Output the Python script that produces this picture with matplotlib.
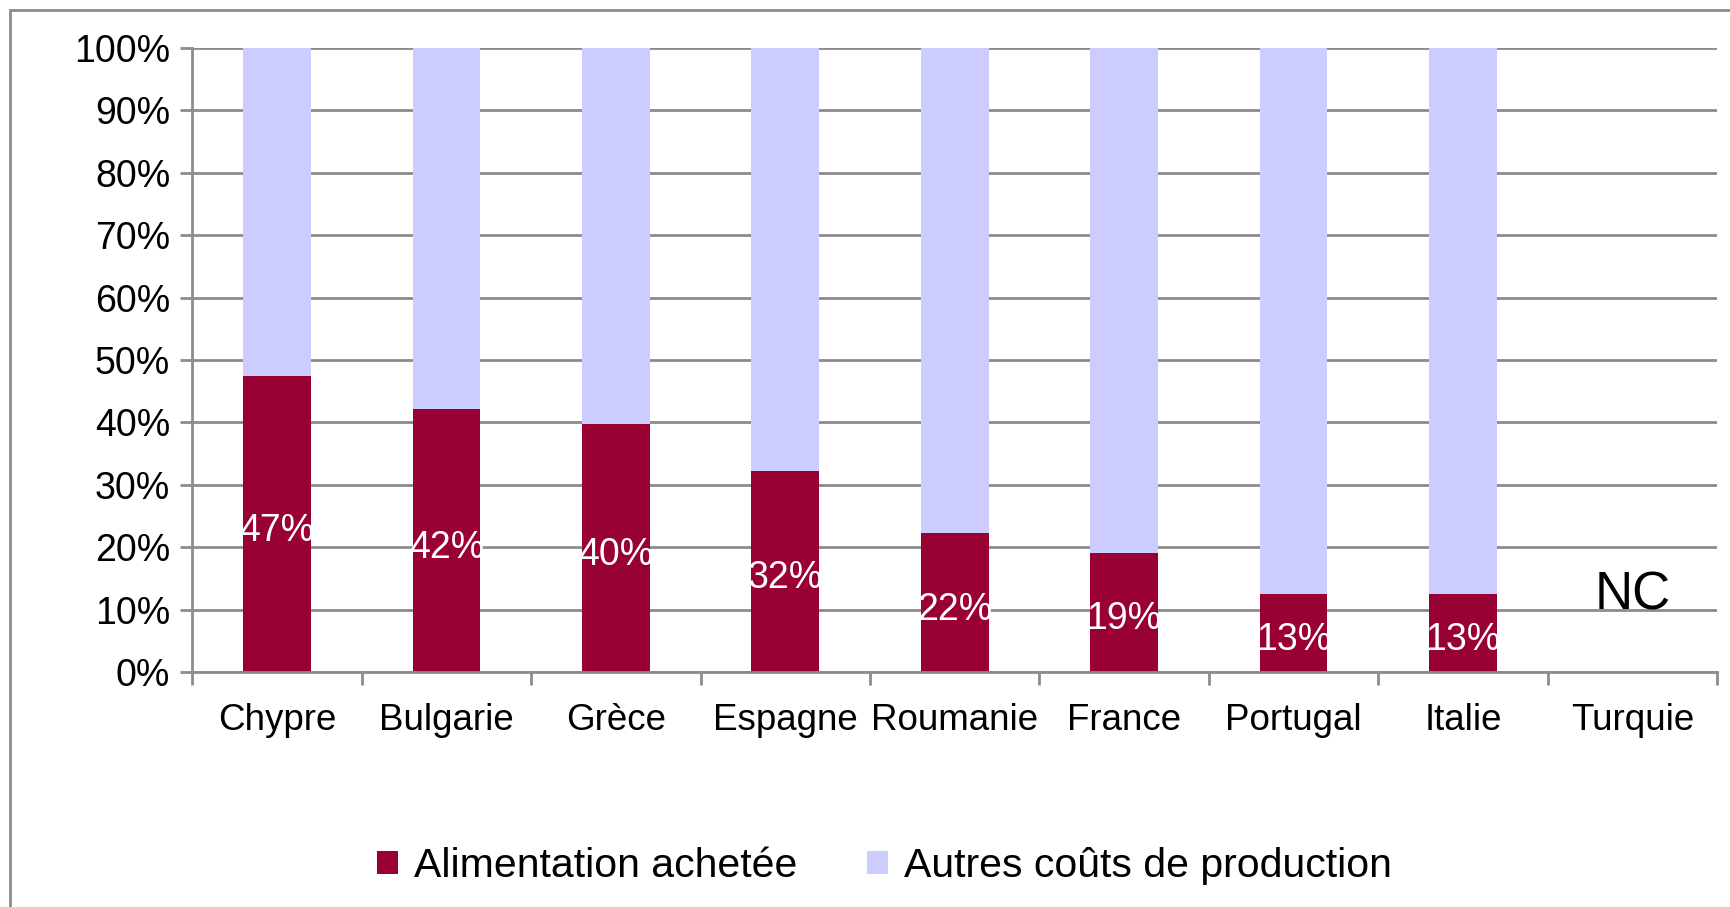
import matplotlib.pyplot as plt
from matplotlib.patches import Rectangle

plt.rcParams['font.family'] = ['Liberation Sans', 'DejaVu Sans']

pays = ['Chypre', 'Bulgarie', 'Grèce', 'Espagne', 'Roumanie', 'France',
        'Portugal', 'Italie', 'Turquie']
alim = [47.5, 42.1, 39.7, 32.2, 22.2, 19.1, 12.5, 12.5]
etiquettes = ['47%', '42%', '40%', '32%', '22%', '19%', '13%', '13%']
autres = [100 - a for a in alim]

rouge = '#990033'
lavande = '#CCCCFF'
gris = '#8c8c8c'

fig = plt.figure(figsize=(17.31, 9.07), dpi=100)
ax = fig.add_axes([0.1112, 0.2591, 0.8807, 0.688])

# cadre extérieur (coupé à droite et en bas dans l'original)
fig.patches.append(Rectangle((10 / 1731, -0.1), 1.1, 1 - 10 / 907 + 0.1,
                             transform=fig.transFigure, fill=False,
                             edgecolor=gris, linewidth=2))

x = list(range(len(alim)))
b1 = ax.bar(x, alim, width=0.4, color=rouge, label='Alimentation achetée', zorder=3)
b2 = ax.bar(x, autres, width=0.4, bottom=alim, color=lavande,
            label='Autres coûts de production', zorder=3)
for xi, a, lab in zip(x, alim, etiquettes):
    ax.annotate(lab, (xi, a / 2), xytext=(0, -5), textcoords='offset points',
                ha='center', va='center', color='white', fontsize=27, zorder=5)

ax.text(8, 12.2, 'NC', ha='center', va='center', fontsize=38)

ax.set_xlim(-0.5, 8.5)
ax.set_ylim(0, 100)
ax.set_yticks(range(0, 101, 10))
ax.set_yticklabels([f'{v}%' for v in range(0, 101, 10)], fontsize=27)
ax.set_xticks(range(len(pays)))
ax.set_xticklabels(pays, fontsize=26.5)
ax.set_xticks([i - 0.5 for i in range(len(pays) + 1)], minor=True)
ax.tick_params(axis='x', which='major', length=0, pad=22)
ax.tick_params(axis='x', which='minor', length=9, width=2, color=gris)
ax.tick_params(axis='y', length=9, width=2, color=gris, pad=7)

ax.grid(axis='y', color=gris, linewidth=2, zorder=0)
for s in ['top', 'right']:
    ax.spines[s].set_visible(False)
for s in ['left', 'bottom']:
    ax.spines[s].set_color(gris)
    ax.spines[s].set_linewidth(2)
ax.spines['bottom'].set_zorder(4)

fig.legend(handles=[b1, b2], loc='center', bbox_to_anchor=(0.511, 0.045),
           ncol=2, frameon=False, fontsize=29.5, handlelength=0.5, handleheight=0.5,
           handletextpad=0.4, columnspacing=1.7)

fig.savefig('out.png', dpi=100)
